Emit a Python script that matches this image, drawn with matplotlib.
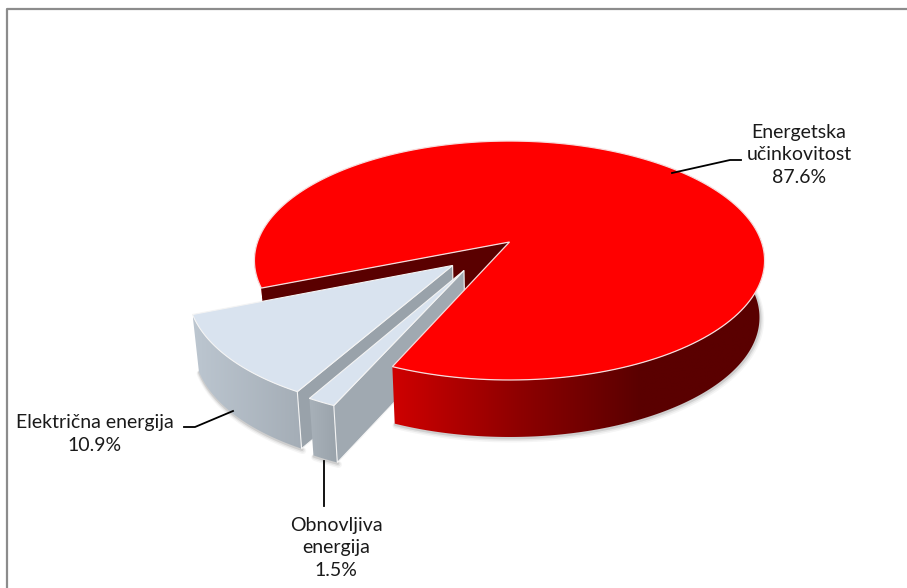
import numpy as np
from matplotlib import pyplot as plt
from matplotlib.colors import LinearSegmentedColormap
from matplotlib.patches import Polygon

plt.rcParams['font.family'] = ['Lato', 'DejaVu Sans']

names = ['Energetska\nučinkovitost', 'Električna energija', 'Obnovljiva\nenergija']
shares = [87.6, 10.9, 1.5]

# picture geometry, all in pixels of the 907x588 image
cx, cy = 509.5, 242.0
R, kR, persp = 252.0, 116.6, 0.155
depth, base_scale = 57.0, 0.98
start = 246.5


def project(x, y, bottom=False):
    w = 1 / (1 - persp * y)
    s = base_scale if bottom else 1.0
    return cx + R * x * w * s, cy + kR * y * w + (depth if bottom else 0)


def rim(angle, off, r=1.0):
    a = np.radians(angle)
    return off[0] + r * np.cos(a), off[1] - r * np.sin(a)


def top_shape(a1, a2, off):
    pts = [project(*off)]
    for a in np.linspace(a1, a2, 200):
        pts.append(project(*rim(a, off)))
    return pts


def side(ax, a1, a2, off, colours, z):
    # outer wall of a slice, horizontal gradient clipped to the wall outline
    angles = np.linspace(a1, a2, 200)
    upper = [project(*rim(a, off)) for a in angles]
    lower = [project(*rim(a, off), True) for a in angles[::-1]]
    outline = np.array(upper + lower)
    x0, x1 = outline[:, 0].min(), outline[:, 0].max()
    y0, y1 = outline[:, 1].min(), outline[:, 1].max()
    cmap = LinearSegmentedColormap.from_list('wall', colours)
    im = ax.imshow(np.linspace(0, 1, 256).reshape(1, -1), cmap=cmap, extent=[x0, x1, y1, y0],
                   aspect='auto', interpolation='bilinear', zorder=z)
    im.set_clip_path(Polygon(outline, transform=ax.transData))


def shadow(ax, a1, a2, off, z):
    arc = np.array([project(*rim(a, off), True) for a in np.linspace(a1, a2, 120)])
    for lw, alpha, d in [(5, 0.05, 2.0), (3.5, 0.08, 1.5), (2, 0.14, 1.0)]:
        ax.plot(arc[:, 0] + d * 0.6, arc[:, 1] + d, color='#404040', lw=lw, alpha=alpha,
                solid_capstyle='round', zorder=z)


sweep = [s * 3.6 for s in shares]
red_a1, red_a2 = start, start + sweep[0]
el_a1, el_a2 = red_a2 - 360, red_a2 - 360 + sweep[1]
re_a1, re_a2 = el_a2, el_a2 + sweep[2]

el_off = (-0.219, 0.195)
re_off = (-0.174, 0.235)
red_off = (0.0, 0.0)

top_red = '#ff0000'
top_pale = '#d9e3ef'
wall_dark = '#5a0000'
edge = '#f4f4f4'

fig = plt.figure(figsize=(9.07, 5.88), dpi=100)
ax = fig.add_axes([0, 0, 1, 1])

# chart frame, only left and top fall inside the picture
ax.plot([6.5, 6.5, 907], [588, 8.5, 8.5], color='#8c8c8c', lw=1.6, zorder=1)

# shadows first
shadow(ax, red_a1, 372, red_off, 2)
shadow(ax, el_a1, el_a2, el_off, 2)
shadow(ax, re_a1, re_a2, re_off, 2)

# left bit of the red rim and the dark inner wall seen through the gap
side(ax, 172, red_a2 - 360, red_off, ['#c80000', '#c80000'], 3)
ex, ey = rim(red_a2 - 360, red_off)
ax.add_patch(Polygon([project(0, 0), project(ex, ey), project(ex, ey, True), project(0, 0, True)],
                     fc=wall_dark, ec='none', zorder=4))

# electricity slice
side(ax, el_a1, el_a2, el_off, ['#bcc6d0', '#a4adb6'], 5)
fx, fy = rim(el_a2, el_off)
ax.add_patch(Polygon([project(*el_off), project(fx, fy), project(fx, fy, True), project(*el_off, True)],
                     fc='#99a2aa', ec=edge, lw=0.8, zorder=6))
ax.add_patch(Polygon(top_shape(el_a1, el_a2, el_off), fc=top_pale, ec=edge, lw=0.8, zorder=7))

# renewables slice
side(ax, re_a1, re_a2, re_off, ['#a8b1b9', '#9aa3ab'], 8)
gx, gy = rim(re_a2, re_off)
ax.add_patch(Polygon([project(*re_off), project(gx, gy), project(gx, gy, True), project(*re_off, True)],
                     fc='#a0a9b1', ec=edge, lw=0.8, zorder=9))
ax.add_patch(Polygon(top_shape(re_a1, re_a2, re_off), fc=top_pale, ec=edge, lw=0.8, zorder=10))

# red slice goes on last, its top hides the inner ends of the small slices
side(ax, red_a1, 372, red_off, ['#cf0000', '#8f0000', '#5a0000', '#5a0000'], 11)
ax.add_patch(Polygon(top_shape(red_a1, red_a2, red_off), fc=top_red, ec='#f6dcdc', lw=0.9, zorder=12))

# leader lines
ax.plot([672, 730, 741], [173, 160, 160], color='k', lw=1.3, zorder=13)
ax.plot([233, 195, 184], [411, 427, 427], color='k', lw=1.3, zorder=13)
ax.plot([324, 324], [461, 506], color='k', lw=1.3, zorder=13)

# labels
text_kw = dict(ha='center', va='center', fontsize=14, color='#1a1a1a', linespacing=1.42, zorder=14)
ax.text(799, 155, f'{names[0]}\n{shares[0]}%', **text_kw)
ax.text(95, 434, f'{names[1]}\n{shares[1]}%', **text_kw)
ax.text(336, 548, f'{names[2]}\n{shares[2]}%', **text_kw)

ax.set_xlim(0, 907)
ax.set_ylim(588, 0)
ax.axis('off')

fig.savefig('out.png', dpi=100)
